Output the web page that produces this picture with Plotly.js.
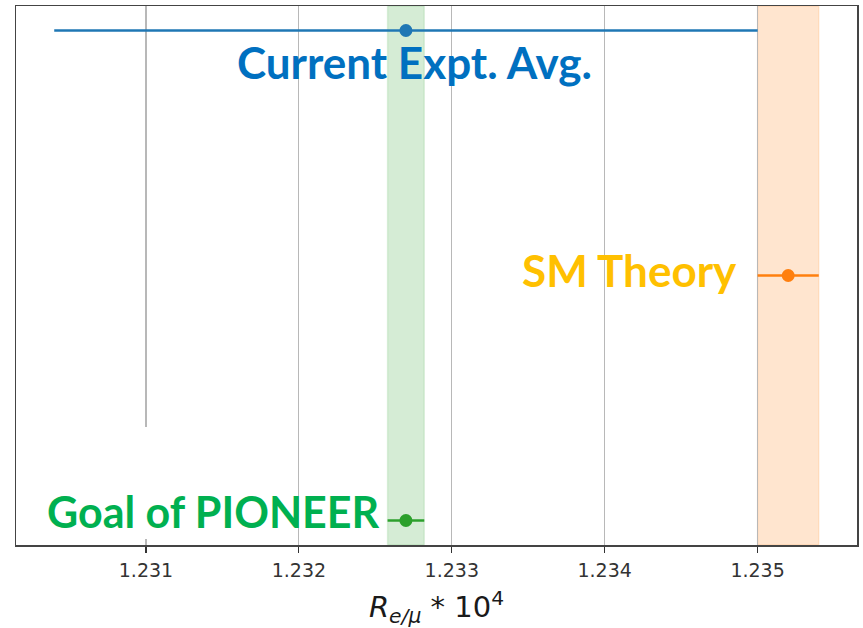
<!DOCTYPE html>
<html>
<head>
<meta charset="utf-8">
<script src="https://cdn.plot.ly/plotly-3.0.1.min.js"></script>
<style>html,body{margin:0;padding:0;background:#fff}#chart{width:863px;height:628px}</style>
</head>
<body>
<div id="chart"></div>
<script>
// R_e/mu * 10^4 : central values and uncertainties, one row per measurement
const labels = ["Goal of PIONEER", "SM Theory", "Current Expt. Avg."];
const rowY = [0, 1, 2];
const centers = [1.2327, 1.2352, 1.2327];
const errors = [0.00012, 0.0002, 0.0023];
const colors = ["#2ca02c", "#ff7f0e", "#1f77b4"];
const textColors = ["#00b050", "#ffc000", "#0070c0"];
const bandFill = ["rgba(44,160,44,0.2)", "rgba(255,127,14,0.2)"];
const bandEdge = ["rgba(44,160,44,0.12)", "rgba(255,127,14,0.15)"];
const tickVals = [1.231, 1.232, 1.233, 1.234, 1.235];
const tickText = ["1.231", "1.232", "1.233", "1.234", "1.235"];

const traces = rowY.map((y, i) => ({
  type: "scatter",
  mode: "markers",
  x: [centers[i]],
  y: [y],
  marker: {color: colors[i], size: 13},
  error_x: {type: "data", array: [errors[i]], color: colors[i], thickness: 2.5, width: 0},
  showlegend: false,
  hoverinfo: "x"
}));

// shaded bands for the theory and PIONEER ranges
const shapes = [0, 1].map(i => ({
  type: "rect", layer: "below", xref: "x", yref: "paper",
  x0: centers[i] - errors[i], x1: centers[i] + errors[i], y0: 0, y1: 1,
  fillcolor: bandFill[i], line: {width: 1.5, color: bandEdge[i]}
}));
// white patch behind the PIONEER label
shapes.push({
  type: "rect", layer: "above", xref: "paper", yref: "paper",
  x0: 0.14, x1: 0.21, y0: 0.011, y1: 0.219,
  fillcolor: "#ffffff", line: {width: 0}
});

const annotations = [
  {text: labels[2], x: 0.4744, y: 0.896, xanchor: "center", size: 44, color: textColors[2]},
  {text: labels[1], x: 0.8597, y: 0.51, xanchor: "right", size: 44, color: textColors[1]},
  {text: labels[0], x: 0.0345, y: 0.063, xanchor: "left", size: 43, color: textColors[0]}
].map(a => ({
  text: "<b>" + a.text + "</b>", xref: "paper", yref: "paper", x: a.x, y: a.y,
  xanchor: a.xanchor, yanchor: "middle", showarrow: false,
  font: {family: "Lato, sans-serif", size: a.size, color: a.color}
}));

const layout = {
  width: 863, height: 628,
  margin: {l: 16, r: 6, t: 6, b: 83},
  paper_bgcolor: "#ffffff", plot_bgcolor: "#ffffff",
  font: {family: "DejaVu Sans, sans-serif", color: "#262626"},
  xaxis: {
    range: [1.23015, 1.23565],
    tickvals: tickVals, ticktext: tickText,
    ticks: "outside", ticklen: 6, tickwidth: 1.2, tickcolor: "#333",
    ticklabelstandoff: 2,
    tickfont: {size: 19, color: "#333"},
    showgrid: true, gridcolor: "#b8b8b8", gridwidth: 1.2,
    zeroline: false, showline: true, mirror: true, linecolor: "#444", linewidth: 1.5,
    title: {text: "<i>R</i><sub><i>e/μ</i></sub> * 10<sup>4</sup>", font: {size: 29, color: "#1a1a1a"}, standoff: 16}
  },
  yaxis: {
    range: [-0.1, 2.1], showticklabels: false, ticks: "", showgrid: false,
    zeroline: false, showline: true, mirror: true, linecolor: "#444", linewidth: 1.5
  },
  shapes: shapes,
  annotations: annotations
};

Plotly.newPlot("chart", traces, layout, {displayModeBar: false, staticPlot: true});
</script>
</body>
</html>
